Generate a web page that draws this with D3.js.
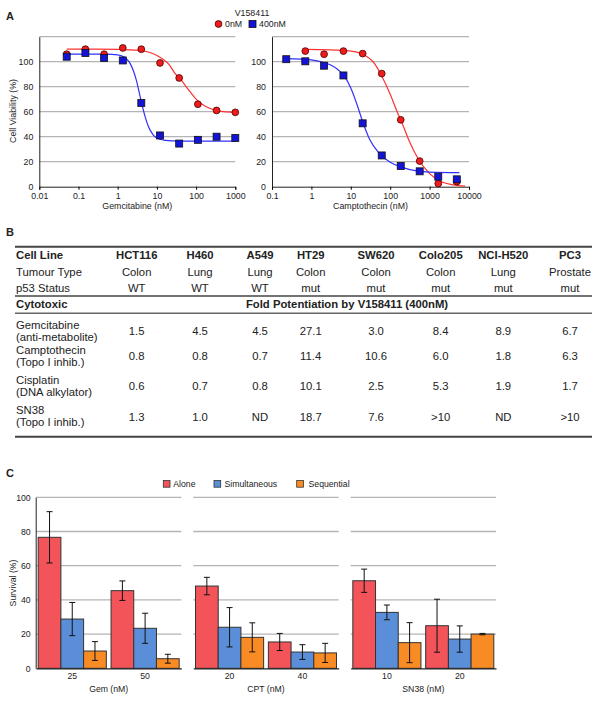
<!DOCTYPE html>
<html>
<head>
<meta charset="utf-8">
<script src="https://cdn.jsdelivr.net/npm/d3@7"></script>
<style>
body{margin:0;background:#fff}
svg{font-family:"Liberation Sans",Arial,sans-serif;fill:#222}
svg .tick text{font-family:"Liberation Sans",Arial,sans-serif}
</style>
</head>
<body>
<svg width="600" height="701"></svg>
<script>
// ---- panel A data ----
const gemDose = [0.05, 0.15, 0.45, 1.35, 4, 12, 37, 111, 333, 1000];
const gem0nM = [106, 110, 106, 111, 110, 99, 87, 66, 61, 59.5];
const gem400nM = [104, 107, 103, 101, 67, 41, 34.5, 37.5, 40, 39];
// fitted curves
const gemFit0X = [0.05, 0.3, 1, 3, 6, 10, 15, 20, 30, 40, 50, 70, 100, 150, 200, 300, 500, 1000];
const gemFit0Y = [110, 110, 109.8, 109.3, 107.8, 105, 101.5, 98, 90, 86, 82, 76, 70, 65.5, 63.3, 61.3, 60, 59.5];
const gemFit400X = [0.05, 0.5, 1, 1.5, 2, 2.5, 3, 3.5, 4, 5, 6, 8, 10, 15, 25, 100, 1000];
const gemFit400Y = [106, 106, 105.5, 103.5, 99.5, 93, 85, 76, 68, 56, 48.5, 41.5, 39, 37.3, 36.7, 36.5, 36.5];

const cptDose0 = [0.7, 2.1, 6.5, 20, 61, 185, 560, 1660, 4900];
const cpt0nM = [108.5, 106, 108.5, 106.5, 90.5, 53.5, 20.5, 2.5, 4];
const cptDose400 = [0.23, 0.7, 2.1, 6.5, 20, 61, 185, 560, 1660, 4900];
const cpt400nM = [102, 100.3, 96.8, 89, 50.7, 25, 16.5, 12.3, 8, 5.9];
const cptFit0X = [0.7, 3, 10, 20, 40, 60, 100, 150, 200, 300, 500, 1000, 2000, 4000, 8000];
const cptFit0Y = [109.8, 109.5, 108.5, 106, 98.5, 89, 74, 60, 51, 37, 23, 10.5, 4, 1.5, 0.5];
const cptFit400X = [0.23, 1, 2, 3, 5, 7, 10, 15, 20, 30, 50, 100, 200, 500, 1000, 5700];
const cptFit400Y = [102.5, 101.5, 99.5, 97.5, 93, 88, 79, 64, 52, 38, 27.5, 19.5, 15.5, 12.5, 11.7, 11.2];

const viabilityTicks = [0, 20, 40, 60, 80, 100];

// ---- panel B data ----
const cellLines = ["HCT116", "H460", "A549", "HT29", "SW620", "Colo205", "NCI-H520", "PC3"];
const tumourType = ["Colon", "Lung", "Lung", "Colon", "Colon", "Colon", "Lung", "Prostate"];
const p53Status = ["WT", "WT", "WT", "mut", "mut", "mut", "mut", "mut"];
const drugs = ["Gemcitabine", "Camptothecin", "Cisplatin", "SN38"];
const drugClass = ["(anti-metabolite)", "(Topo I inhib.)", "(DNA alkylator)", "(Topo I inhib.)"];
const gemFold = ["1.5", "4.5", "4.5", "27.1", "3.0", "8.4", "8.9", "6.7"];
const cptFold = ["0.8", "0.8", "0.7", "11.4", "10.6", "6.0", "1.8", "6.3"];
const cisFold = ["0.6", "0.7", "0.8", "10.1", "2.5", "5.3", "1.9", "1.7"];
const sn38Fold = ["1.3", "1.0", "ND", "18.7", "7.6", ">10", "ND", ">10"];

// ---- panel C data ----
const drugGroups = ["Gem (nM)", "CPT (nM)", "SN38 (nM)"];
const groupDoses = [["25", "50"], ["20", "40"], ["10", "20"]];
const treatments = ["Alone", "Simultaneous", "Sequential"];
const aloneMean = [76.6, 45.4, 48.1, 15.4, 51.2, 24.9];
const aloneSd = [15, 5.7, 5.1, 5, 6.8, 15.5];
const simMean = [28.8, 23.4, 24, 9.5, 32.7, 17.1];
const simSd = [9.7, 8.8, 11.5, 4.3, 4.3, 7.7];
const seqMean = [10.1, 5.6, 18.1, 9, 15, 20];
const seqSd = [5.5, 2.6, 8.5, 5.6, 11.7, 0.4];
const survivalTicks = [0, 20, 40, 60, 80, 100];

const RED = "#ee1c1c", BLUE = "#1414d8";
const svg = d3.select("svg");

// panel letters
[["A", 20], ["B", 236], ["C", 477]].forEach(([t, y]) => {
  svg.append("text").attr("x", 6).attr("y", y).attr("font-size", 11).attr("font-weight", "bold").text(t);
});

// ================= A =================
const yA = d3.scaleLinear().domain([0, 120]).range([186.7, 36.7]);

function doseChart(xs, title, sets) {
  const g = svg.append("g");
  const [x0, x1] = xs.range();
  g.selectAll(".grid").data([20, 40, 60, 80, 100, 120]).enter().append("line")
    .attr("x1", x0).attr("x2", x1).attr("y1", d => yA(d)).attr("y2", d => yA(d))
    .attr("stroke", "#b4b4b4").attr("stroke-width", 1.3);

  const xAxis = g.append("g").attr("transform", `translate(0,${yA(0)})`)
    .call(d3.axisBottom(xs).tickValues(xs.ticks().filter(d => Math.log10(d) % 1 === 0)).tickFormat(d3.format("~g")).tickSize(3));
  xAxis.select(".domain").attr("stroke", "#222");
  xAxis.selectAll("text").attr("font-size", 8.8).attr("fill", "#222");
  const yAxis = g.append("g").attr("transform", `translate(${x0},0)`)
    .call(d3.axisLeft(yA).tickValues(viabilityTicks).tickSize(0).tickPadding(6));
  yAxis.select(".domain").attr("stroke", "#222");
  yAxis.selectAll("text").attr("font-size", 8.8).attr("fill", "#222");

  g.append("text").attr("x", (x0 + x1) / 2).attr("y", 208.5).attr("text-anchor", "middle")
    .attr("font-size", 8.8).text(title);

  const line = d3.line().x(d => xs(d[0])).y(d => yA(d[1])).curve(d3.curveMonotoneX);
  sets.forEach(s => {
    g.append("path").datum(d3.zip(s.fitX, s.fitY)).attr("d", line)
      .attr("fill", "none").attr("stroke", s.curve).attr("stroke-width", 1.2);
  });
  sets.forEach(s => {
    const pts = d3.zip(s.x, s.y);
    if (s.shape === "circle") {
      g.selectAll(null).data(pts).enter().append("circle")
        .attr("cx", d => xs(d[0])).attr("cy", d => yA(d[1])).attr("r", 3.4)
        .attr("fill", s.fill).attr("stroke", "#4a0000").attr("stroke-width", 0.8);
    } else {
      g.selectAll(null).data(pts).enter().append("rect")
        .attr("x", d => xs(d[0]) - 3.5).attr("y", d => yA(d[1]) - 3.5).attr("width", 7).attr("height", 7)
        .attr("fill", s.fill).attr("stroke", "#111").attr("stroke-width", 0.8);
    }
  });
}

const xGem = d3.scaleLog().domain([0.01, 1000]).range([39.3, 235.3]);
const xCpt = d3.scaleLog().domain([0.1, 10000]).range([272, 469]);

doseChart(xGem, "Gemcitabine (nM)", [
  {x: gemDose, y: gem0nM, fitX: gemFit0X, fitY: gemFit0Y, shape: "circle", fill: RED, curve: "#ff3030"},
  {x: gemDose, y: gem400nM, fitX: gemFit400X, fitY: gemFit400Y, shape: "square", fill: BLUE, curve: "#3030ff"}
]);
doseChart(xCpt, "Camptothecin (nM)", [
  {x: cptDose0, y: cpt0nM, fitX: cptFit0X, fitY: cptFit0Y, shape: "circle", fill: RED, curve: "#ff3030"},
  {x: cptDose400, y: cpt400nM, fitX: cptFit400X, fitY: cptFit400Y, shape: "square", fill: BLUE, curve: "#3030ff"}
]);

svg.append("text").attr("font-size", 8.8).attr("text-anchor", "middle")
  .attr("transform", "translate(16,111) rotate(-90)").text("Cell Viability (%)");

// legend A
svg.append("text").attr("x", 252).attr("y", 16).attr("text-anchor", "middle").attr("font-size", 8.8).text("V158411");
svg.append("circle").attr("cx", 218.5).attr("cy", 24).attr("r", 3.4).attr("fill", RED).attr("stroke", "#4a0000").attr("stroke-width", 0.8);
svg.append("text").attr("x", 225).attr("y", 27.2).attr("font-size", 8.8).text("0nM");
svg.append("rect").attr("x", 249).attr("y", 20.5).attr("width", 7).attr("height", 7).attr("fill", BLUE).attr("stroke", "#111").attr("stroke-width", 0.8);
svg.append("text").attr("x", 259).attr("y", 27.2).attr("font-size", 8.8).text("400nM");

// ================= B =================
const colX = d3.scaleOrdinal().domain(cellLines).range([136.7, 200, 260, 310.7, 376, 440.7, 503.3, 570]);
const tb = svg.append("g").attr("font-size", 11.3);
const rule = (y, w, c) => tb.append("line").attr("x1", 15).attr("x2", 592).attr("y1", y).attr("y2", y)
  .attr("stroke", c).attr("stroke-width", w);
rule(246.7, 2, "#444");
rule(296, 1.6, "#444");
rule(313.3, 1.4, "#666");
rule(436.7, 2, "#444");

tb.append("text").attr("x", 16).attr("y", 259).attr("font-weight", "bold").text("Cell Line");
tb.append("text").attr("x", 16).attr("y", 275.7).text("Tumour Type");
tb.append("text").attr("x", 16).attr("y", 291.7).text("p53 Status");
tb.append("text").attr("x", 16).attr("y", 308.3).attr("font-weight", "bold").text("Cytotoxic");
tb.append("text").attr("x", 347).attr("y", 308.3).attr("font-weight", "bold").attr("text-anchor", "middle")
  .text("Fold Potentiation by V158411 (400nM)");

cellLines.forEach((c, i) => {
  tb.append("text").attr("x", colX(c)).attr("y", 259).attr("text-anchor", "middle").attr("font-weight", "bold").text(c);
  tb.append("text").attr("x", colX(c)).attr("y", 275.7).attr("text-anchor", "middle").text(tumourType[i]);
  tb.append("text").attr("x", colX(c)).attr("y", 291.7).attr("text-anchor", "middle").text(p53Status[i]);
});

const foldRows = [gemFold, cptFold, cisFold, sn38Fold];
const rowY = [331, 356, 386, 416.5];
drugs.forEach((d, r) => {
  tb.append("text").attr("x", 16).attr("y", rowY[r] - 2.5).text(d);
  tb.append("text").attr("x", 16).attr("y", rowY[r] + 9.8).text(drugClass[r]);
  foldRows[r].forEach((v, i) => {
    tb.append("text").attr("x", colX(cellLines[i])).attr("y", rowY[r] + 4).attr("text-anchor", "middle").text(v);
  });
});

// ================= C =================
const barColors = d3.scaleOrdinal().domain(treatments).range(["#f2545a", "#5b8ed8", "#f98b25"]);
const yC = d3.scaleLinear().domain([0, 100]).range([668.3, 497.3]);
const xPanel = d3.scaleBand().domain(drugGroups).range([36, 496]).paddingInner(0.076);
const means = [aloneMean, simMean, seqMean];
const sds = [aloneSd, simSd, seqSd];

const gc = svg.append("g");
drugGroups.forEach((grp, gi) => {
  const px = xPanel(grp), bw = xPanel.bandwidth();
  const g = gc.append("g").attr("transform", `translate(${px},0)`);
  g.selectAll(null).data(survivalTicks.slice(1)).enter().append("line")
    .attr("x1", 0).attr("x2", bw).attr("y1", d => yC(d)).attr("y2", d => yC(d))
    .attr("stroke", "#b4b4b4").attr("stroke-width", 1.3);

  const xDose = d3.scaleBand().domain(groupDoses[gi]).range([0, bw]).paddingInner(0.065).paddingOuter(0.03);
  const xTreat = d3.scaleBand().domain(treatments).range([0, xDose.bandwidth()]);

  groupDoses[gi].forEach((dose, di) => {
    const k = gi * 2 + di;
    const dg = g.append("g").attr("transform", `translate(${xDose(dose)},0)`);
    const rows = treatments.map((t, ti) => ({t, m: means[ti][k], s: sds[ti][k]}));
    dg.selectAll("rect").data(rows).enter().append("rect")
      .attr("x", d => xTreat(d.t)).attr("width", xTreat.bandwidth())
      .attr("y", d => yC(d.m)).attr("height", d => yC(0) - yC(d.m))
      .attr("fill", d => barColors(d.t)).attr("stroke", "#333").attr("stroke-width", 1);
    const err = dg.selectAll(".err").data(rows).enter().append("g")
      .attr("transform", d => `translate(${xTreat(d.t) + xTreat.bandwidth() / 2},0)`)
      .attr("stroke", "#111").attr("stroke-width", 1);
    err.append("line").attr("y1", d => yC(d.m + d.s)).attr("y2", d => yC(d.m - d.s));
    err.append("line").attr("x1", -3).attr("x2", 3).attr("y1", d => yC(d.m + d.s)).attr("y2", d => yC(d.m + d.s));
    err.append("line").attr("x1", -3).attr("x2", 3).attr("y1", d => yC(d.m - d.s)).attr("y2", d => yC(d.m - d.s));
  });

  // baseline + dose labels
  const ax = g.append("g").attr("transform", `translate(0,${yC(0)})`)
    .call(d3.axisBottom(xDose).tickSize(0).tickPadding(5));
  ax.select(".domain").attr("stroke", "#222").attr("stroke-width", 1.2);
  ax.selectAll("text").attr("font-size", 8.7).attr("fill", "#222");

  g.append("text").attr("x", bw / 2).attr("y", 691.5).attr("text-anchor", "middle").attr("font-size", 8.7).text(grp);
});

const yAxC = gc.append("g").attr("transform", "translate(35.7,0)")
  .call(d3.axisLeft(yC).tickValues(survivalTicks).tickSize(0).tickPadding(5));
yAxC.select(".domain").attr("stroke", "#222");
yAxC.selectAll("text").attr("font-size", 8.7).attr("fill", "#222");

svg.append("text").attr("font-size", 8.7).attr("text-anchor", "middle")
  .attr("transform", "translate(16,583) rotate(-90)").text("Survival (%)");

// legend C
const legX = [163.3, 214, 296.7];
const legTextX = [173.3, 224.5, 308.5];
treatments.forEach((t, i) => {
  svg.append("rect").attr("x", legX[i]).attr("y", 480.5).attr("width", 6.7).attr("height", 6.7)
    .attr("fill", barColors(t)).attr("stroke", "#333").attr("stroke-width", 0.8);
  svg.append("text").attr("x", legTextX[i]).attr("y", 487).attr("font-size", 8.7).text(t);
});
</script>
</body>
</html>
